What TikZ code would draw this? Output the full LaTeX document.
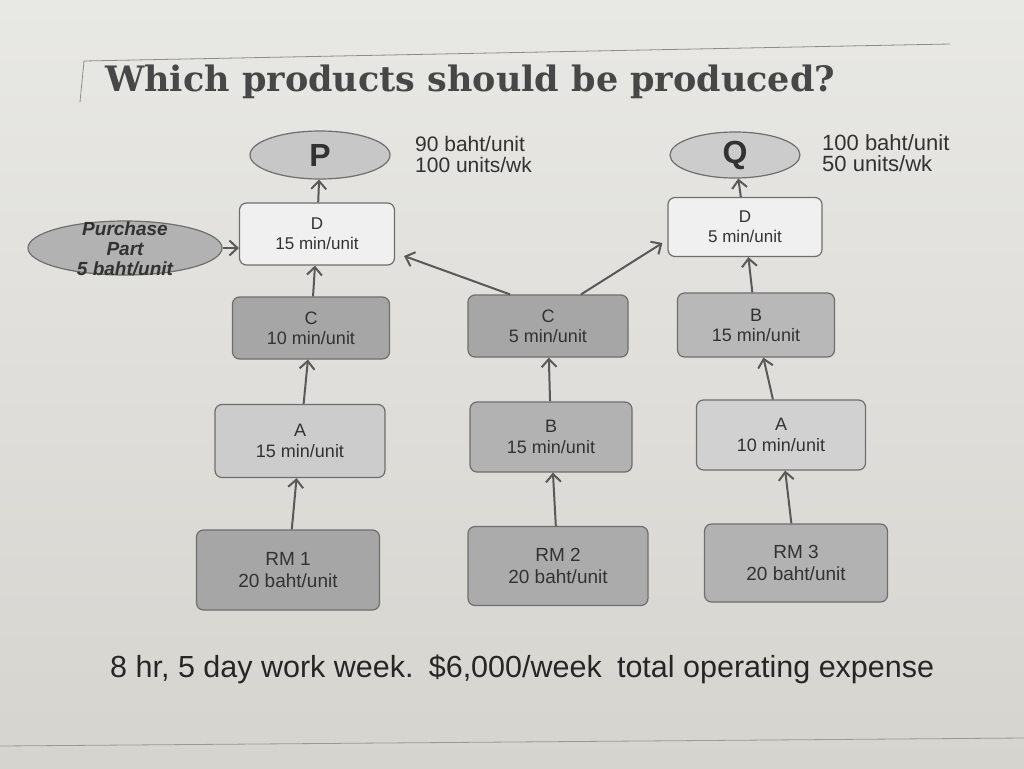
\documentclass[tikz,border=0pt]{standalone}
\usepackage{fontspec}
\setmainfont{Liberation Sans}
\newfontfamily\titlefont{DejaVu Serif}
\usetikzlibrary{shapes.geometric,arrows.meta,calc}
\definecolor{paperT}{RGB}{232,232,229}
\definecolor{paperB}{RGB}{214,212,207}
\definecolor{edge}{RGB}{110,110,110}
\definecolor{ink}{RGB}{50,50,50}
\begin{document}
\begin{tikzpicture}[x=1pt,y=-1pt,
  box/.style={draw=edge, line width=1.2pt, rounded corners=7pt, align=center,
    inner sep=0pt, text=ink, font=\fontsize{17}{20}\selectfont},
  oval/.style={ellipse, draw=edge, line width=1.2pt, inner sep=0pt, align=center, text=ink},
  flow/.style={draw=black!65, line width=2pt,
    -{Straight Barb[length=8pt,width=15pt,line width=2pt]}},
  info/.style={anchor=north west, align=left, inner sep=0pt,
    font=\fontsize{21}{21}\selectfont, text=ink},
  frame/.style={draw=black!45, line width=0.8pt}]
\useasboundingbox (0,0) rectangle (1024,768);
\shade[top color=paperT, bottom color=paperB] (0,0) rectangle (1024,768);

% title and frame
\coordinate (f1) at (950,44);
\coordinate (f2) at (84,61);
\coordinate (f3) at (80,102);
\draw[frame] (f1) -- (f2) -- (f3);
\node[anchor=base west, inner sep=0pt, text=black!72, font=\titlefont\fontsize{35}{35}\selectfont\bfseries] (title) at (105,91) {Which products should be produced?};
\coordinate (b1) at (0,746);
\coordinate (b2) at (1024,738);
\draw[frame, draw=black!40] (b1) -- (b2);

% products
\node[oval, fill=black!22, minimum width=140, minimum height=48, font=\fontsize{32}{32}\selectfont\bfseries] (P) at (320,155) {P};
\node[oval, fill=black!20, minimum width=130, minimum height=46, font=\fontsize{32}{32}\selectfont\bfseries] (Q) at (735,155) {Q};
\node[info] (pinfo) at (415,136) {90 baht/unit\\100 units/wk};
\node[info, font=\fontsize{22}{21}\selectfont] (qinfo) at (822,134) {100 baht/unit\\50 units/wk};

% D operations
\node[box, fill=black!6, minimum width=155, minimum height=62] (dp) at (317,234) {D\\15 min/unit};
\node[box, fill=black!6, minimum width=154, minimum height=59] (dq) at (745,227) {D\\5 min/unit};
\node[oval, fill=black!30, minimum width=194, minimum height=54, font=\fontsize{19}{20}\selectfont\bfseries\itshape] (pp) at (125,248)
  {\makebox[0pt]{\smash{\raisebox{-8pt}{\begin{tabular}{@{}c@{}}Purchase\\Part\\5 baht/unit\end{tabular}}}}};

% second row
\node[box, fill=black!35, minimum width=157, minimum height=62, font=\fontsize{18}{20}\selectfont] (cp) at (311,328) {C\\10 min/unit};
\node[box, fill=black!35, minimum width=160, minimum height=62, font=\fontsize{18}{20}\selectfont] (cm) at (548,326) {C\\5 min/unit};
\node[box, fill=black!28, minimum width=157, minimum height=64, font=\fontsize{18}{20}\selectfont] (bq) at (756,325) {B\\15 min/unit};

% third row
\node[box, fill=black!20, minimum width=170, minimum height=73, font=\fontsize{18}{21}\selectfont] (ap) at (300,441) {A\\15 min/unit};
\node[box, fill=black!30, minimum width=162, minimum height=70, font=\fontsize{18}{21}\selectfont] (bm) at (551,437) {B\\15 min/unit};
\node[box, fill=black!18, minimum width=169, minimum height=70, font=\fontsize{18}{21}\selectfont] (aq) at (781,435) {A\\10 min/unit};

% raw materials
\node[box, fill=black!35, minimum width=183, minimum height=80, font=\fontsize{19}{22}\selectfont] (r1) at (288,570) {RM 1\\20 baht/unit};
\node[box, fill=black!33, minimum width=180, minimum height=79, font=\fontsize{19}{22}\selectfont] (r2) at (558,566) {RM 2\\20 baht/unit};
\node[box, fill=black!30, minimum width=183, minimum height=78, font=\fontsize{19}{22}\selectfont] (r3) at (796,563) {RM 3\\20 baht/unit};

% footer
\node[anchor=base west, inner sep=0pt, text=black!85, font=\fontsize{30.5}{30}\selectfont] (foot) at (110,677) {8 hr, 5 day work week.\enspace\$6,000/week\enspace total operating expense};

% connectors
\draw[flow] (dp) -- (P);
\draw[flow] (dq) -- (Q);
\draw[flow] (pp.east) -- (dp.west |- pp.east);
\draw[flow] (cp) -- (dp);
\draw[flow] (ap) -- (cp);
\draw[flow] (r1) -- (ap);
\draw[flow] ([xshift=-38pt]cm.north) -- ([shift={(9,22)}]dp.east);
\draw[flow] ([xshift=33pt]cm.north) -- ([shift={(-5,16)}]dq.west);
\draw[flow] (bm) -- (cm);
\draw[flow] (r2) -- (bm);
\draw[flow] (bq) -- (dq);
\draw[flow] (aq) -- (bq);
\draw[flow] (r3) -- (aq);
\end{tikzpicture}
\end{document}
